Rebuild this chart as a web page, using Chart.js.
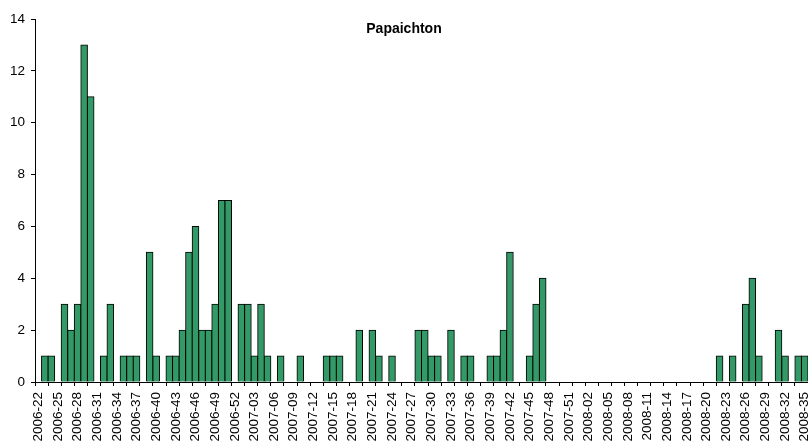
<!DOCTYPE html>
<html>
<head>
<meta charset="utf-8">
<script src="https://cdn.jsdelivr.net/npm/chart.js@4/dist/chart.umd.min.js"></script>
<style>
  html, body { margin: 0; padding: 0; background: #ffffff; }
  #wrap { width: 808px; height: 445px; position: relative; }
</style>
</head>
<body>
<div id="wrap"><canvas id="c" width="808" height="445"></canvas></div>
<script>
const chartTitle = 'Papaichton';

const weeks2006 = ['2006-22','2006-23','2006-24','2006-25','2006-26','2006-27','2006-28','2006-29','2006-30','2006-31',
  '2006-32','2006-33','2006-34','2006-35','2006-36','2006-37','2006-38','2006-39','2006-40','2006-41',
  '2006-42','2006-43','2006-44','2006-45','2006-46','2006-47','2006-48','2006-49','2006-50','2006-51','2006-52'];
const weeks2007 = ['2007-01','2007-02','2007-03','2007-04','2007-05','2007-06','2007-07','2007-08','2007-09','2007-10',
  '2007-11','2007-12','2007-13','2007-14','2007-15','2007-16','2007-17','2007-18','2007-19','2007-20',
  '2007-21','2007-22','2007-23','2007-24','2007-25','2007-26','2007-27','2007-28','2007-29','2007-30',
  '2007-31','2007-32','2007-33','2007-34','2007-35','2007-36','2007-37','2007-38','2007-39','2007-40',
  '2007-41','2007-42','2007-43','2007-44','2007-45','2007-46','2007-47','2007-48','2007-49','2007-50',
  '2007-51','2007-52'];
const weeks2008 = ['2008-01','2008-02','2008-03','2008-04','2008-05','2008-06','2008-07','2008-08','2008-09','2008-10',
  '2008-11','2008-12','2008-13','2008-14','2008-15','2008-16','2008-17','2008-18','2008-19','2008-20',
  '2008-21','2008-22','2008-23','2008-24','2008-25','2008-26','2008-27','2008-28','2008-29','2008-30',
  '2008-31','2008-32','2008-33','2008-34','2008-35'];
const categories = weeks2006.concat(weeks2007, weeks2008);

const cases2006 = [0,1,1,0,3,2,3,13,11,0, 1,3,0,1,1,1,0,5,1,0, 1,1,2,5,6,2,2,3,7,7, 0];
const cases2007 = [3,3,1,3,1,0,1,0,0,1, 0,0,0,1,1,1,0,0,2,0, 2,1,0,1,0,0,0,2,2,1, 1,0,2,0,1,1,0,0,1,1,
  2,5,0,0,1,3,4,0,0,0, 0,0];
const cases2008 = [0,0,0,0,0,0,0,0,0,0, 0,0,0,0,0,0,0,0,0,0, 0,1,0,1,0,3,4,1,0,0, 2,1,0,1,1];
const cases = cases2006.concat(cases2007, cases2008);

const yTicksMax = 14;
const yTicksStep = 2;

const FONT = '"Liberation Sans", Arial, sans-serif';

const titlePlugin = {
  id: 'innerTitle',
  afterDraw(chart) {
    const ctx = chart.ctx;
    ctx.save();
    ctx.font = 'bold 14px ' + FONT;
    ctx.fillStyle = '#000';
    ctx.textAlign = 'center';
    ctx.textBaseline = 'alphabetic';
    ctx.fillText(chartTitle, chart.width / 2, 33);
    ctx.restore();
  }
};

new Chart(document.getElementById('c'), {
  type: 'bar',
  data: {
    labels: categories,
    datasets: [{
      data: cases,
      backgroundColor: '#339966',
      borderColor: '#000000',
      borderWidth: 1,
      inflateAmount: 0.5,
      categoryPercentage: 1.0,
      barPercentage: 1.0
    }]
  },
  plugins: [titlePlugin],
  options: {
    responsive: false,
    animation: false,
    devicePixelRatio: 1,
    layout: { padding: { top: 19, right: 0, bottom: 0, left: 0 } },
    plugins: {
      legend: { display: false },
      title: { display: false },
      tooltip: { enabled: false }
    },
    scales: {
      x: {
        grid: {
          offset: true,
          drawOnChartArea: false,
          drawTicks: true,
          tickLength: 4,
          color: (ctx) => (ctx.index % 2 === 0 ? '#000000' : 'rgba(0,0,0,0)'),
          lineWidth: 1
        },
        border: { display: true, color: '#000000', width: 1 },
        ticks: {
          autoSkip: false,
          minRotation: 90,
          maxRotation: 90,
          padding: 6,
          color: '#000000',
          font: { family: FONT, size: 13.5 },
          callback: function (value, index) {
            return index % 3 === 0 ? categories[index] : '';
          }
        },
        afterFit(scale) {
          scale.height = 63;
          scale.paddingLeft = 0;
          scale.paddingRight = 0;
        }
      },
      y: {
        min: 0,
        max: yTicksMax,
        grid: {
          drawOnChartArea: false,
          drawTicks: true,
          tickLength: 4,
          color: '#000000'
        },
        border: { display: true, color: '#000000', width: 1 },
        ticks: {
          stepSize: yTicksStep,
          padding: 6,
          color: '#000000',
          font: { family: FONT, size: 13.5 }
        },
        afterFit(scale) {
          scale.width = 35;
          scale.paddingTop = 0;
          scale.paddingBottom = 0;
        }
      }
    }
  }
});
</script>
</body>
</html>
